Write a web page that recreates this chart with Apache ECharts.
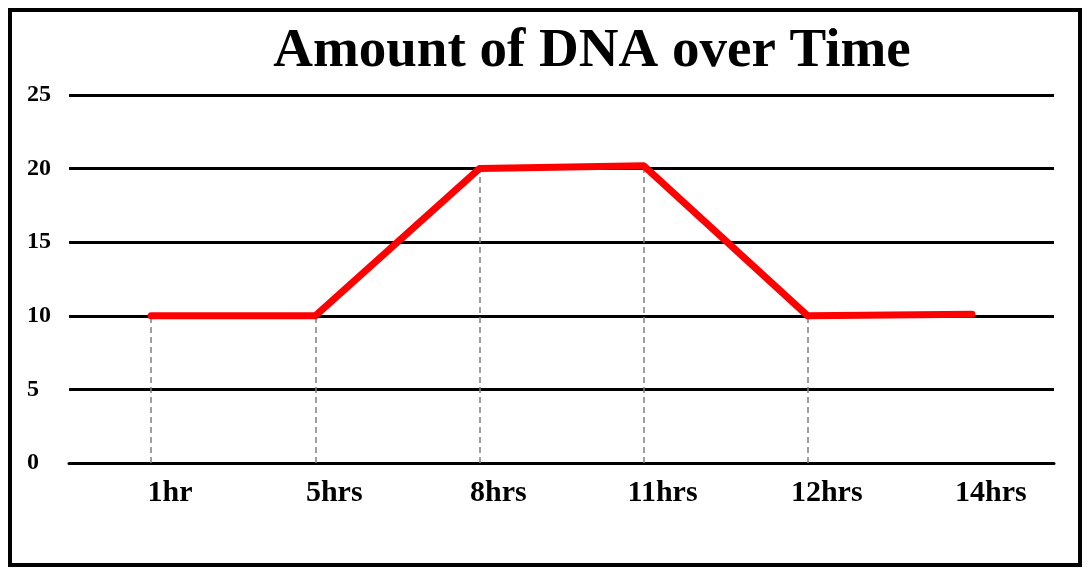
<!DOCTYPE html>
<html>
<head>
<meta charset="utf-8">
<script src="https://cdn.jsdelivr.net/npm/echarts@6/dist/echarts.min.js"></script>
<style>
  html, body { margin: 0; padding: 0; background: #fff; }
  #chart { width: 1090px; height: 573px; }
</style>
</head>
<body>
<div id="chart"></div>
<script>
// 数据
const hours = ['1hr', '5hrs', '8hrs', '11hrs', '12hrs', '14hrs'];
const dnaAmount = [10, 10, 20, 20.2, 10, 10.1];
const yTicks = [0, 5, 10, 15, 20, 25];
// 哪些点画下垂虚线（最后一个没有）
const dropLine = [true, true, true, true, true, false];

const chart = echarts.init(document.getElementById('chart'));

const serif = '"Liberation Serif", "DejaVu Serif", serif';

const dropData = [];
hours.forEach(function (h, i) {
    if (dropLine[i]) {
        dropData.push([{ coord: [h, 0] }, { coord: [h, dnaAmount[i]] }]);
    }
});

const option = {
    backgroundColor: '#fff',
    title: {
        text: 'Amount of DNA over Time',
        left: 587,
        textAlign: 'center',
        top: 19,
        textStyle: { fontFamily: serif, fontWeight: 'bold', fontSize: 55, color: '#000' }
    },
    graphic: [{
        type: 'rect',
        shape: { x: 10, y: 10, width: 1070, height: 555 },
        style: { fill: 'none', stroke: '#000', lineWidth: 4 },
        silent: true
    }],
    grid: { left: 69, right: 36, top: 95, bottom: 110 },
    xAxis: {
        type: 'category',
        data: hours,
        boundaryGap: true,
        axisLine: { lineStyle: { color: '#000', width: 3 } },
        axisTick: { show: false },
        axisLabel: {
            margin: 15,
            padding: [0, 0, 0, 38],
            fontFamily: serif, fontWeight: 'bold', fontSize: 30, color: '#000'
        }
    },
    yAxis: {
        type: 'value',
        min: yTicks[0],
        max: yTicks[yTicks.length - 1],
        interval: 5,
        axisLine: { show: false },
        axisTick: { show: false },
        splitLine: { lineStyle: { color: '#000', width: 3 } },
        axisLabel: {
            align: 'left',
            margin: 42,
            padding: [0, 0, 12, 0],
            fontFamily: serif, fontWeight: 'bold', fontSize: 24, color: '#000'
        }
    },
    series: [{
        type: 'line',
        data: dnaAmount,
        symbol: 'none',
        lineStyle: { color: '#ff0000', width: 7, cap: 'round', join: 'round' },
        z: 5,
        markLine: {
            silent: true,
            symbol: 'none',
            label: { show: false },
            lineStyle: { color: '#808080', width: 1.5, type: [6, 4] },
            data: dropData
        }
    }]
};

chart.setOption(option);
</script>
</body>
</html>
